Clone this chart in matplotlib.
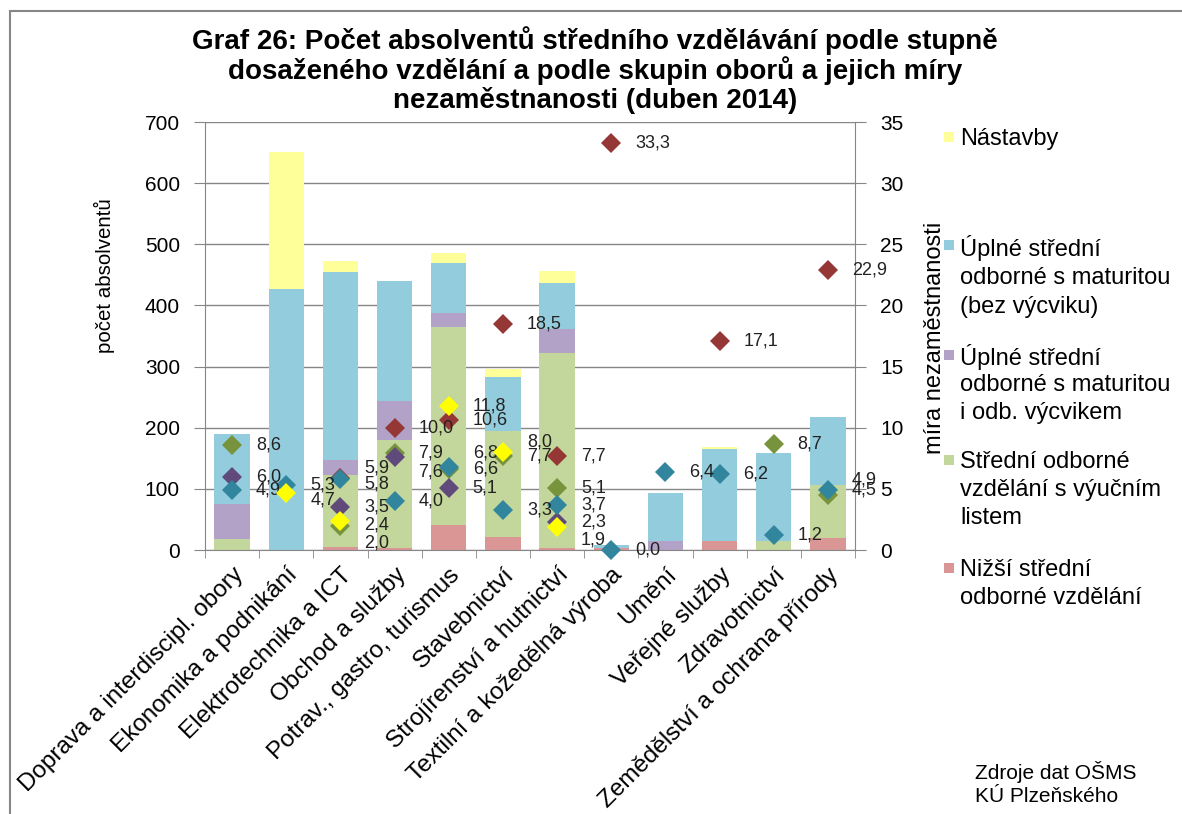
import numpy as np
import matplotlib
matplotlib.use("Agg")
import matplotlib.pyplot as plt
from matplotlib.patches import Rectangle

plt.rcParams["font.family"] = ["Liberation Sans", "DejaVu Sans"]

nan = np.nan

categories = [
    "Doprava a interdiscipl. obory",
    "Ekonomika a podnikání",
    "Elektrotechnika a ICT",
    "Obchod a služby",
    "Potrav., gastro, turismus",
    "Stavebnictví",
    "Strojírenství a hutnictví",
    "Textilní a kožedělná výroba",
    "Umění",
    "Veřejné služby",
    "Zdravotnictví",
    "Zemědělství a ochrana přírody",
]

series_names = [
    ["Nižší střední", "odborné vzdělání"],
    ["Střední odborné", "vzdělání s výučním", "listem"],
    ["Úplné střední", "odborné s maturitou", "i odb. výcvikem"],
    ["Úplné střední", "odborné s maturitou", "(bez výcviku)"],
    ["Nástavby"],
]

# počet absolventů (left axis)
nizsi = [0, 0, 5, 4, 41, 21, 4, 3, 0, 14, 0, 19]
vyucni = [18, 0, 118, 176, 323, 174, 319, 0, 0, 0, 14, 87]
mat_vycvik = [58, 0, 25, 63, 23, 0, 39, 0, 14, 0, 0, 0]
mat_bez = [114, 427, 306, 197, 82, 88, 74, 5, 80, 151, 145, 112]
nastavby = [0, 224, 19, 0, 17, 13, 21, 0, 0, 4, 0, 0]

# míra nezaměstnanosti (right axis)
u_nizsi = [nan, nan, 5.9, 10.0, 10.6, 18.5, 7.7, 33.3, nan, 17.1, nan, 22.9]
u_vyucni = [8.6, nan, 2.0, 7.9, 6.6, 7.7, 5.1, nan, nan, nan, 8.7, 4.5]
u_mat_vycvik = [6.0, nan, 3.5, 7.6, 5.1, nan, 2.3, nan, nan, nan, nan, nan]
u_mat_bez = [4.9, 5.3, 5.8, 4.0, 6.8, 3.3, 3.7, 0.0, 6.4, 6.2, 1.2, 4.9]
u_nastavby = [nan, 4.7, 2.4, nan, 11.8, 8.0, 1.9, nan, nan, nan, nan, nan]

counts = [nizsi, vyucni, mat_vycvik, mat_bez, nastavby]
rates = [u_nizsi, u_vyucni, u_mat_vycvik, u_mat_bez, u_nastavby]

title_lines = [
    "Graf 26: Počet absolventů středního vzdělávání podle stupně",
    "dosaženého vzdělání a podle skupin oborů a jejich míry",
    "nezaměstnanosti (duben 2014)",
]
source_lines = ["Zdroje dat OŠMS", "KÚ Plzeňského"]

bar_colors = ["#D99694", "#C3D69B", "#B3A2C7", "#93CDDD", "#FFFF99"]
marker_colors = ["#953735", "#77933C", "#604A7B", "#31859C", "#FFFF00"]
grey = "#868686"

# hand-moved data labels in the original (series, category): pixel shift up
label_nudge = {(0, 2): 10, (3, 2): -5, (4, 2): -4, (1, 2): -17, (4, 1): -7,
               (2, 3): -15, (3, 4): 14, (4, 5): 10, (4, 6): -13,
               (3, 11): 10, (1, 11): 5}

W, H = 1182, 814
fig = plt.figure(figsize=(W / 100, H / 100), dpi=100)


def fx(px):
    return px / W


def fy(py):
    return 1 - py / H


# outer frame of the chart object
fig.patches.append(Rectangle((fx(10), -0.05), 1.1, fy(11) + 0.05,
                             transform=fig.transFigure, fill=False,
                             edgecolor=grey, linewidth=1.5))

ax = fig.add_axes([fx(205), fy(550), 650 / W, 428 / H])
x = np.arange(len(categories))
bottom = np.zeros(len(categories))
for vals, col in zip(counts, bar_colors):
    ax.bar(x, vals, width=0.65, bottom=bottom, color=col, zorder=2)
    bottom += np.array(vals)

ax.set_xlim(-0.5, len(categories) - 0.5)
ax.set_ylim(0, 700)
ax.set_yticks(range(0, 701, 100))
ax.yaxis.grid(True, color=grey, linewidth=1)
ax.set_axisbelow(True)
ax.set_xticks(x)
ax.set_xticklabels(categories, rotation=45, ha="right", va="top",
                   rotation_mode="anchor", fontsize=17.5)
ax.set_xticks(np.arange(-0.5, len(categories), 1), minor=True)
ax.tick_params(axis="x", which="major", length=0, pad=10)
ax.tick_params(axis="x", which="minor", length=6, color=grey, direction="out")
ax.tick_params(axis="y", length=8, color=grey, labelsize=15, pad=10)
for s in ["top", "right"]:
    ax.spines[s].set_visible(False)
for s in ["left", "bottom"]:
    ax.spines[s].set_color(grey)
ax.set_ylabel("počet absolventů", fontsize=14.8)
ax.yaxis.set_label_coords(-(205 - 115) / 650, (550 - 276) / 428)

ax2 = ax.twinx()
ax2.set_ylim(0, 35)
ax2.set_yticks(range(0, 36, 5))
ax2.tick_params(axis="y", length=8, color=grey, labelsize=15, pad=10)
for s in ["top", "left", "bottom"]:
    ax2.spines[s].set_visible(False)
ax2.spines["right"].set_color(grey)
ax2.set_ylabel("míra nezaměstnanosti", fontsize=17)
ax2.yaxis.set_label_coords(1 + (924 - 855) / 650, (550 - 338) / 428)

for si, (vals, col) in enumerate(zip(rates, marker_colors)):
    ax2.plot(x, vals, linestyle="none", marker="D", markersize=10,
             markeredgewidth=0, color=col, zorder=3, clip_on=False)
    for i, v in enumerate(vals):
        if np.isnan(v):
            continue
        ax2.annotate(f"{v:.1f}".replace(".", ","), (i, v),
                     xytext=(24, label_nudge.get((si, i), 0)),
                     textcoords="offset pixels", ha="left", va="center",
                     fontsize=13, color="#222222", annotation_clip=False)

for k, line in enumerate(title_lines):
    fig.text(fx(595), fy(38 + 30 * k), line, ha="center", va="center_baseline",
             fontsize=20, fontweight="bold")

# legend (top entry = last series), as in the original
legend_rows = [[137], [245, 275, 305], [355, 382, 410], [460, 488, 515], [568, 595]]
for rows, idx in zip(legend_rows, range(4, -1, -1)):
    fig.patches.append(Rectangle((fx(944), fy(rows[0] + 5)), 10 / W, 10 / H,
                                 transform=fig.transFigure,
                                 facecolor=bar_colors[idx], edgecolor="none"))
    for row, line in zip(rows, series_names[idx]):
        fig.text(fx(960), fy(row), line, ha="left", va="center_baseline",
                 fontsize=17)

for k, line in enumerate(source_lines):
    fig.text(fx(975), fy(770 + 25 * k), line, ha="left", va="center_baseline",
             fontsize=15)

fig.savefig("out.png", dpi=100)
